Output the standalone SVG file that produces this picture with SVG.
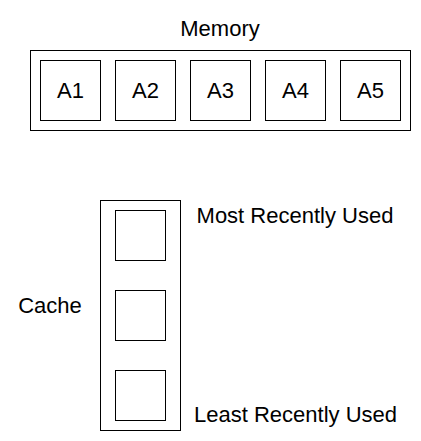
<svg xmlns="http://www.w3.org/2000/svg" width="421" height="441" viewBox="0 0 421 441">
<style>
.box{fill:#fff;stroke:#000;stroke-width:1}
.t{font-family:"Liberation Sans",Arial,sans-serif;font-size:22px;fill:#000;text-anchor:middle}
</style>
<rect width="421" height="441" fill="#fff"/>
<g id="memory-label"><text class="t" x="220" y="36">Memory</text></g>
<g id="memory"><rect class="box" x="30.5" y="50.5" width="380" height="80"/></g>
<g id="A1"><rect class="box" x="40.5" y="60.5" width="60" height="60"/><text class="t" x="70.5" y="98">A1</text></g>
<g id="A2"><rect class="box" x="115.5" y="60.5" width="60" height="60"/><text class="t" x="145.5" y="98">A2</text></g>
<g id="A3"><rect class="box" x="190.5" y="60.5" width="60" height="60"/><text class="t" x="220.5" y="98">A3</text></g>
<g id="A4"><rect class="box" x="265.5" y="60.5" width="60" height="60"/><text class="t" x="295.5" y="98">A4</text></g>
<g id="A5"><rect class="box" x="340.5" y="60.5" width="60" height="60"/><text class="t" x="370.5" y="98">A5</text></g>
<g id="cache-label"><text class="t" x="50" y="313">Cache</text></g>
<g id="cache"><rect class="box" x="100.5" y="200.5" width="80" height="230"/></g>
<g id="slot1"><rect class="box" x="115.5" y="210.5" width="50" height="50"/></g>
<g id="slot2"><rect class="box" x="115.5" y="290.5" width="50" height="50"/></g>
<g id="slot3"><rect class="box" x="115.5" y="370.5" width="50" height="50"/></g>
<g id="mru-label"><text class="t" x="295" y="223">Most Recently Used</text></g>
<g id="lru-label"><text class="t" x="295.5" y="422">Least Recently Used</text></g>
<g id="connectors"></g>
</svg>
